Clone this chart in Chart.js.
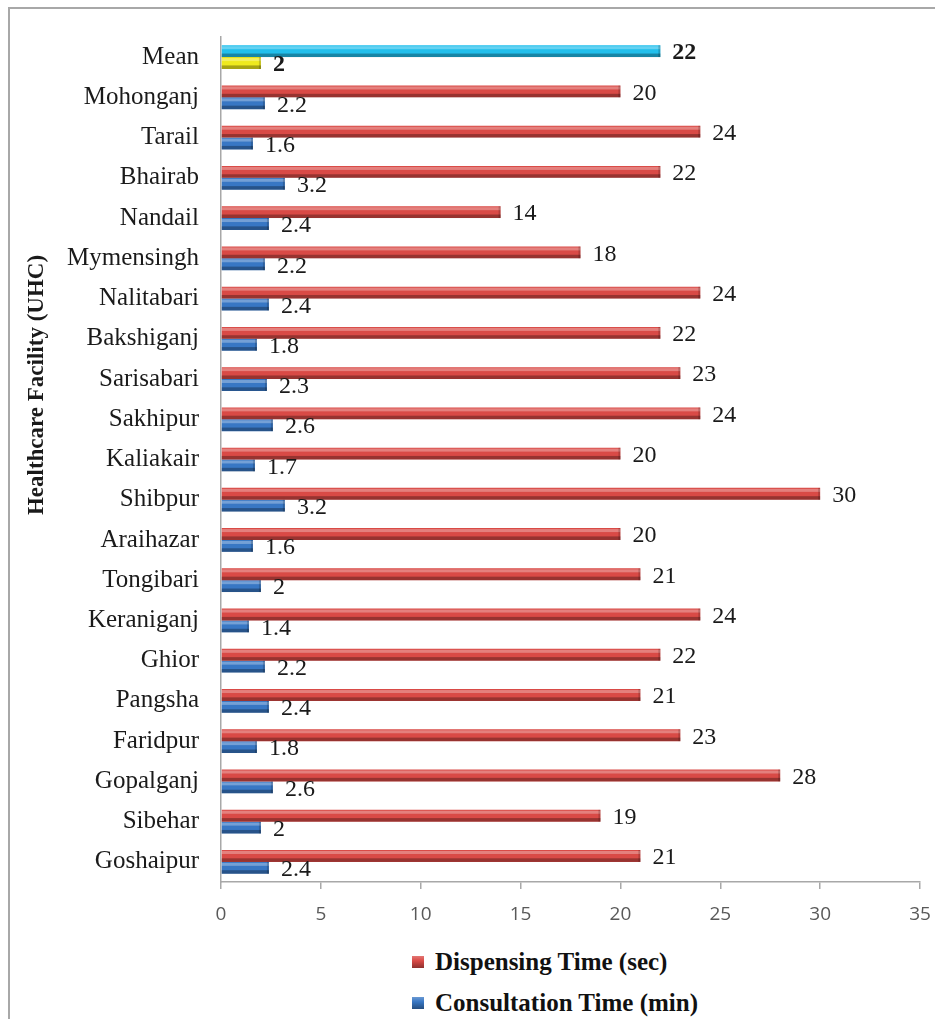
<!DOCTYPE html>
<html>
<head>
<meta charset="utf-8">
<script src="https://cdn.jsdelivr.net/npm/chart.js@4.4.1/dist/chart.umd.min.js"></script>
<style>
  html, body { margin: 0; padding: 0; background: #fff; }
  body { width: 935px; height: 1019px; position: relative; overflow: hidden; }
  #frame { position: absolute; left: 8px; top: 7px; width: 940px; height: 1030px;
           border-left: 2px solid #a8a8a8; border-top: 2px solid #a8a8a8; }
  #chart { position: absolute; left: 0; top: 0; }
  #legend { position: absolute; left: 412px; top: 941px;
            font: bold 25px "Liberation Serif", "Times New Roman", serif; color: #111; }
  #legend .item { display: flex; align-items: center; height: 41px; white-space: nowrap; }
  #legend .swatch { width: 12px; height: 12px; margin-right: 11px; }
</style>
</head>
<body>
<div id="frame"></div>
<canvas id="chart" width="935" height="940"></canvas>
<div id="legend"></div>
<script>
  const facilities = [
    "Mean", "Mohonganj", "Tarail", "Bhairab", "Nandail", "Mymensingh", "Nalitabari",
    "Bakshiganj", "Sarisabari", "Sakhipur", "Kaliakair", "Shibpur", "Araihazar",
    "Tongibari", "Keraniganj", "Ghior", "Pangsha", "Faridpur", "Gopalganj", "Sibehar", "Goshaipur",
  ];
  const dispensingSec = [22, 20, 24, 22, 14, 18, 24, 22, 23, 24, 20, 30, 20, 21, 24, 22, 21, 23, 28, 19, 21];
  const consultationMin = [2, 2.2, 1.6, 3.2, 2.4, 2.2, 2.4, 1.8, 2.3, 2.6, 1.7, 3.2, 1.6, 2, 1.4, 2.2, 2.4, 1.8, 2.6, 2, 2.4];
  const xTicks = { min: 0, max: 35, step: 5 };

  const SERIES_NAMES = ["Dispensing Time (sec)", "Consultation Time (min)"];
  const Y_TITLE = "Healthcare Facility (UHC)";

  const COLORS = {
    red: "#D94A46",
    blue: "#3877C4",
    cyan: "#22BFEC",
    yellow: "#EFEA1E",
    axis: "#a8a8a8",
    tick: "#595959",
    text: "#1a1a1a",
  };

  const SERIF = '"Liberation Serif", "Times New Roman", serif';

  // mean row gets its own colours
  const dispColors = facilities.map((f) => (f === "Mean" ? COLORS.cyan : COLORS.red));
  const consColors = facilities.map((f) => (f === "Mean" ? COLORS.yellow : COLORS.blue));

  // light top edge / dark bottom edge, like the bevelled bars
  const bevelPlugin = {
    id: "bevel",
    afterDatasetsDraw(chart) {
      const ctx = chart.ctx;
      ctx.save();
      chart.data.datasets.forEach((ds, di) => {
        chart.getDatasetMeta(di).data.forEach((bar) => {
          const { x, y, base, height } = bar.getProps(["x", "y", "base", "height"], true);
          const top = y - height / 2;
          const w = x - base;
          ctx.fillStyle = "rgba(255,255,255,0.3)";
          ctx.fillRect(base, top + 1, w, height * 0.25);
          ctx.fillStyle = "rgba(0,0,0,0.3)";
          ctx.fillRect(base, top + height * 0.7, w, height * 0.3);
          ctx.fillStyle = "rgba(0,0,0,0.18)";
          ctx.fillRect(x - 2, top, 2, height);
        });
      });
      ctx.restore();
    },
  };

  const valueLabelPlugin = {
    id: "valueLabels",
    afterDatasetsDraw(chart) {
      const ctx = chart.ctx;
      ctx.save();
      ctx.fillStyle = COLORS.text;
      ctx.textAlign = "left";
      ctx.textBaseline = "middle";
      chart.data.datasets.forEach((ds, di) => {
        chart.getDatasetMeta(di).data.forEach((bar, i) => {
          const bold = chart.data.labels[i] === "Mean";
          ctx.font = (bold ? "bold " : "") + "24px " + SERIF;
          ctx.fillText(String(ds.data[i]), bar.x + 12, bar.y + 2);
        });
      });
      ctx.restore();
    },
  };

  const yTitlePlugin = {
    id: "yTitle",
    afterDraw(chart) {
      const ctx = chart.ctx;
      ctx.save();
      ctx.translate(37, 385);
      ctx.rotate(-Math.PI / 2);
      ctx.font = "bold 23px " + SERIF;
      ctx.fillStyle = COLORS.text;
      ctx.textAlign = "center";
      ctx.textBaseline = "middle";
      ctx.fillText(Y_TITLE, 0, 0);
      ctx.restore();
    },
  };

  const chart = new Chart(document.getElementById("chart").getContext("2d"), {
    type: "bar",
    data: {
      labels: facilities,
      datasets: [
        {
          label: SERIES_NAMES[0],
          data: dispensingSec,
          backgroundColor: dispColors,
          legendColor: COLORS.red,
          categoryPercentage: 0.59,
          barPercentage: 1.0,
        },
        {
          label: SERIES_NAMES[1],
          data: consultationMin,
          backgroundColor: consColors,
          legendColor: COLORS.blue,
          categoryPercentage: 0.59,
          barPercentage: 1.0,
        },
      ],
    },
    options: {
      indexAxis: "y",
      responsive: false,
      animation: false,
      layout: { padding: { left: 10, top: 34, right: 15, bottom: 18 } },
      plugins: {
        legend: { display: false },
        tooltip: { enabled: false },
      },
      scales: {
        y: {
          grid: { drawOnChartArea: false, drawTicks: false },
          border: { display: true, color: COLORS.axis, width: 1.5 },
          ticks: {
            color: COLORS.text,
            padding: 22,
            font: { family: SERIF, size: 25 },
          },
          afterFit(scale) {
            scale.width = 211;
          },
        },
        x: {
          min: xTicks.min,
          max: xTicks.max,
          grid: { drawOnChartArea: false, drawTicks: true, tickLength: 7, color: COLORS.axis, lineWidth: 1.5 },
          border: { color: COLORS.axis, width: 1.5 },
          ticks: {
            stepSize: xTicks.step,
            color: COLORS.tick,
            padding: 14,
            font: { family: '"Open Sans", "Liberation Sans", sans-serif', size: 19 },
          },
          afterFit(scale) {
            scale.height = 40;
            // let the layout padding alone decide the plot's right edge
            scale.paddingLeft = 0;
            scale.paddingRight = 0;
          },
        },
      },
    },
    plugins: [bevelPlugin, valueLabelPlugin, yTitlePlugin],
  });

  // legend stacked under the chart
  const legendEl = document.getElementById("legend");
  chart.data.datasets.forEach((ds) => {
    const item = document.createElement("div");
    item.className = "item";
    const sw = document.createElement("span");
    sw.className = "swatch";
    sw.style.background = `linear-gradient(rgba(255,255,255,0.25) 0%, rgba(255,255,255,0) 40%, rgba(0,0,0,0.35) 100%), ${ds.legendColor}`;
    const txt = document.createElement("span");
    txt.textContent = ds.label;
    item.appendChild(sw);
    item.appendChild(txt);
    legendEl.appendChild(item);
  });
</script>
</body>
</html>
